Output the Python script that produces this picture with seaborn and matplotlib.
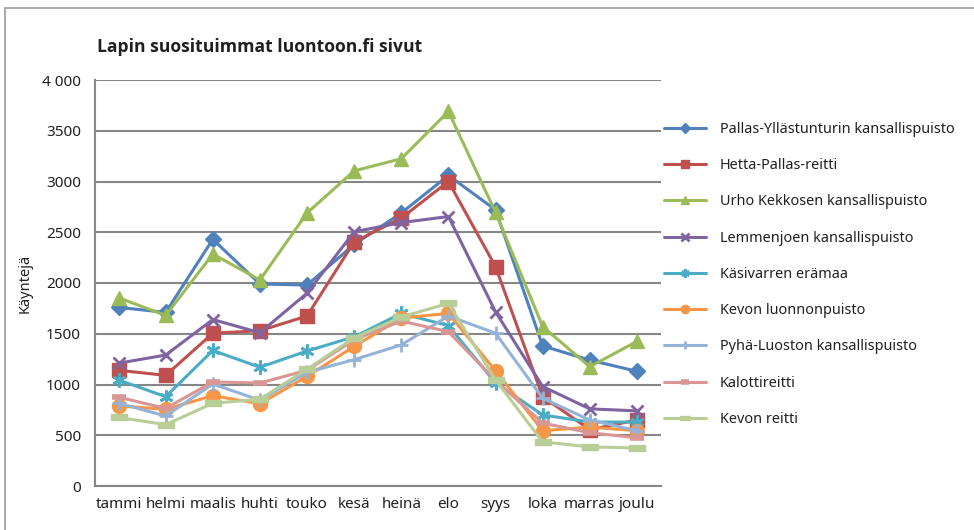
import matplotlib
matplotlib.use("Agg")
import matplotlib.pyplot as plt
import matplotlib.patches as mpatches
import numpy as np
import pandas as pd
import seaborn as sns

months = ["tammi", "helmi", "maalis", "huhti", "touko", "kesä",
          "heinä", "elo", "syys", "loka", "marras", "joulu"]

pallas_yllas = [1760, 1710, 2430, 1990, 1980, 2380, 2690, 3060, 2720, 1380, 1240, 1130]
hetta_pallas = [1140, 1090, 1505, 1530, 1675, 2405, 2640, 3000, 2160, 880, 555, 650]
urho_kekkonen = [1855, 1680, 2285, 2030, 2690, 3105, 3225, 3690, 2695, 1570, 1175, 1425]
lemmenjoki = [1210, 1290, 1640, 1510, 1900, 2505, 2595, 2655, 1715, 980, 760, 740]
kasivarsi = [1045, 880, 1335, 1170, 1330, 1470, 1700, 1580, 1015, 700, 630, 630]
kevo_puisto = [790, 755, 890, 810, 1080, 1375, 1655, 1700, 1135, 545, 580, 545]
pyha_luosto = [815, 690, 1005, 845, 1120, 1245, 1390, 1675, 1505, 865, 650, 545]
kalotti = [875, 765, 1025, 1015, 1140, 1440, 1625, 1520, 1040, 620, 525, 475]
kevo_reitti = [675, 605, 815, 855, 1150, 1460, 1665, 1800, 1045, 435, 385, 375]

series_names = ["Pallas-Yllästunturin kansallispuisto", "Hetta-Pallas-reitti",
                "Urho Kekkosen kansallispuisto", "Lemmenjoen kansallispuisto",
                "Käsivarren erämaa", "Kevon luonnonpuisto",
                "Pyhä-Luoston kansallispuisto", "Kalottireitti", "Kevon reitti"]
series_values = [pallas_yllas, hetta_pallas, urho_kekkonen, lemmenjoki, kasivarsi,
                 kevo_puisto, pyha_luosto, kalotti, kevo_reitti]

colors = ["#4F81BD", "#C0504D", "#9BBB59", "#8064A2", "#4BACC6",
          "#F79646", "#95B3D7", "#D99694", "#B9CD96"]
long_dash = [(-1, -0.32), (1, -0.32), (1, 0.32), (-1, 0.32), (-1, -0.32)]
markers = ["D", "s", "^", "x", (6, 2, 0), "o", "+", "_", long_dash]
msizes = [8, 10, 10, 9, 10, 10, 10, 10, 12]
mews = [1, 1, 1, 2, 2, 1, 2, 4, 1]

sns.set_style("white")
plt.rcParams["font.family"] = ["Noto Sans", "DejaVu Sans"]

fig = plt.figure(figsize=(9.74, 5.30), dpi=100)
ax = fig.add_axes([95 / 974, 44 / 530, 565.5 / 974, 406 / 530])

x = np.arange(len(months))
for name, vals, c, m, ms, mew in zip(series_names, series_values, colors, markers, msizes, mews):
    df = pd.DataFrame({"kk": x, "kaynnit": vals})
    sns.lineplot(data=df, x="kk", y="kaynnit", ax=ax, color=c, linewidth=2.2,
                 marker=m, markersize=ms, markeredgewidth=mew,
                 markeredgecolor=c, markerfacecolor=c, label=name, zorder=3)

ax.set_xlim(-0.5, 11.5)
ax.set_ylim(0, 4000)
ax.set_yticks(np.arange(0, 4001, 500))
ax.set_yticklabels([str(v) if v < 4000 else "4 000" for v in range(0, 4001, 500)])
ax.set_xticks(x)
ax.set_xticklabels(months)
ax.grid(axis="y", color="#868686", linewidth=1.5, zorder=0)
ax.tick_params(axis="both", length=0, labelsize=11, colors="#231F20")
ax.tick_params(axis="y", pad=10)
ax.tick_params(axis="x", pad=8)
for side in ["top", "right"]:
    ax.spines[side].set_visible(False)
for side in ["left", "bottom"]:
    ax.spines[side].set_color("#868686")
    ax.spines[side].set_linewidth(1.5)
ax.set_xlabel("")
ax.set_ylabel("Käyntejä", fontsize=10.5, color="#231F20")
ax.yaxis.set_label_coords(-62 / 565.5, 0.5)

handles, labels = ax.get_legend_handles_labels()
ax.legend(handles, labels, loc="upper left", bbox_to_anchor=(664 / 974, 1 - 122 / 530),
          bbox_transform=fig.transFigure, frameon=False, fontsize=10.4,
          handlelength=2.9, handletextpad=0.95, labelspacing=1.47,
          borderaxespad=0, borderpad=0, markerscale=0.6, labelcolor="#231F20")

fig.text(97 / 974, 1 - 47 / 530, "Lapin suosituimmat luontoon.fi sivut",
         fontsize=12.6, fontweight="bold", family=["Open Sans", "DejaVu Sans"],
         color="#231F20", va="center")

fig.add_artist(mpatches.Rectangle((5 / 974, -0.1), 1.2, 1 - 8 / 530 + 0.1,
                                  transform=fig.transFigure, fill=False,
                                  edgecolor="#9A9A9A", linewidth=1.2))

fig.savefig("out.png", dpi=100)
